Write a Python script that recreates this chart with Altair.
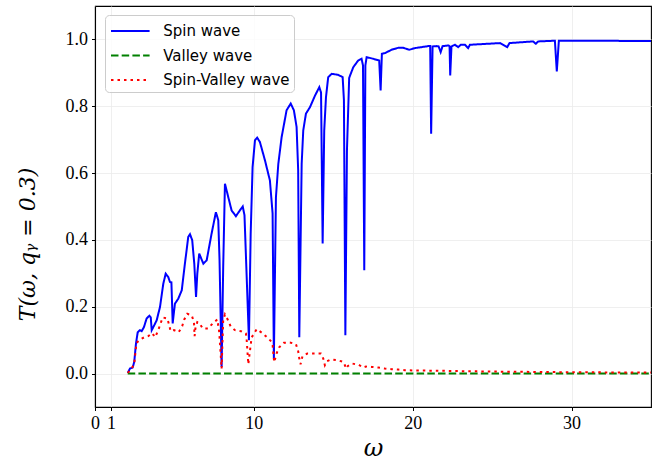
import altair as alt
import pandas as pd

# ---- data ----
spin_x = [2.06, 2.20, 2.37, 2.47, 2.58, 2.69, 2.83, 2.94, 3.08, 3.25, 3.42, 3.51, 3.57, 3.67, 3.88,
          4.09, 4.30, 4.45, 4.61, 4.72, 4.81, 4.89, 5.03, 5.24, 5.46, 5.66, 5.87, 5.98, 6.12, 6.25,
          6.36, 6.44, 6.56, 6.82, 7.03, 7.34, 7.61, 7.76, 7.84, 7.97, 8.07, 8.18, 8.39, 8.60, 8.87,
          9.13, 9.30, 9.41, 9.69, 9.80, 9.92, 10.07, 10.21, 10.38, 10.70, 11.01, 11.18, 11.26, 11.39,
          11.54, 11.75, 12.06, 12.32, 12.52, 12.69, 12.79, 12.86, 13.01, 13.11, 13.28, 13.53, 13.85,
          14.12, 14.23, 14.33, 14.43, 14.54, 14.68, 14.90, 15.31, 15.59, 15.67, 15.76, 15.86, 16.00,
          16.26, 16.57, 16.78, 16.87, 16.95, 17.02, 17.10, 17.51, 17.89, 17.98, 18.06, 18.25, 18.67,
          19.09, 19.40, 19.78, 20.14, 20.98, 21.10, 21.16, 21.25, 21.50, 21.63, 21.76, 21.88, 22.26,
          22.32, 22.36, 22.44, 22.66, 22.86, 23.03, 23.29, 23.49, 23.60, 25.49, 25.95, 26.09, 27.58,
          27.75, 27.90, 28.95, 29.07, 29.20, 31.78, 35.0]
spin_y = [0.002, 0.015, 0.018, 0.035, 0.090, 0.124, 0.130, 0.127, 0.139, 0.165, 0.173, 0.168, 0.130,
          0.139, 0.159, 0.199, 0.269, 0.299, 0.289, 0.274, 0.273, 0.150, 0.209, 0.224, 0.249, 0.329,
          0.409, 0.417, 0.399, 0.329, 0.229, 0.299, 0.359, 0.329, 0.339, 0.419, 0.483, 0.459, 0.339,
          0.020, 0.319, 0.568, 0.528, 0.488, 0.471, 0.489, 0.500, 0.474, 0.100, 0.419, 0.618, 0.698,
          0.706, 0.693, 0.638, 0.578, 0.479, 0.045, 0.528, 0.628, 0.708, 0.788, 0.808, 0.788, 0.738,
          0.608, 0.109, 0.628, 0.728, 0.778, 0.797, 0.832, 0.857, 0.841, 0.389, 0.728, 0.827, 0.887,
          0.897, 0.894, 0.887, 0.818, 0.115, 0.668, 0.885, 0.917, 0.937, 0.942, 0.922, 0.309, 0.922,
          0.947, 0.942, 0.937, 0.847, 0.957, 0.959, 0.969, 0.975, 0.975, 0.969, 0.974, 0.980, 0.980,
          0.718, 0.979, 0.980, 0.979, 0.962, 0.980, 0.982, 0.979, 0.892, 0.979, 0.984, 0.977, 0.984,
          0.984, 0.974, 0.984, 0.989, 0.977, 0.989, 0.994, 0.987, 0.994, 0.996, 0.904, 0.996, 0.996,
          0.995]

valley_x = [2.06, 35.0]
valley_y = [0.0, 0.0]

sv_x = [2.06, 2.31, 2.47, 2.56, 2.62, 2.83, 3.08, 3.35, 3.52, 3.59, 3.79, 3.98, 4.26, 4.55, 4.66,
        4.76, 4.97, 5.27, 5.49, 5.62, 5.81, 6.09, 6.23, 6.27, 6.32, 6.44, 6.56, 6.78, 7.11, 7.41,
        7.70, 7.82, 7.97, 8.07, 8.18, 8.35, 8.54, 8.81, 9.19, 9.50, 9.55, 9.65, 9.72, 9.86, 10.18,
        10.54, 10.82, 11.12, 11.18, 11.28, 11.43, 11.58, 11.89, 12.27, 12.65, 12.79, 12.86, 12.94,
        13.06, 13.36, 13.78, 14.22, 14.37, 14.47, 14.60, 14.85, 15.27, 15.63, 15.73, 15.80, 15.92,
        16.19, 16.61, 16.88, 17.06, 17.41, 17.83, 18.25, 18.67, 19.09, 19.51, 20.35, 20.77, 25.0,
        30.0, 35.0]
sv_y = [0.002, 0.015, 0.030, 0.070, 0.092, 0.102, 0.108, 0.112, 0.118, 0.121, 0.109, 0.130, 0.168,
        0.165, 0.147, 0.127, 0.130, 0.124, 0.142, 0.162, 0.179, 0.174, 0.154, 0.112, 0.135, 0.154,
        0.152, 0.135, 0.135, 0.150, 0.162, 0.124, 0.015, 0.159, 0.177, 0.162, 0.141, 0.130, 0.127,
        0.120, 0.100, 0.028, 0.055, 0.108, 0.133, 0.121, 0.109, 0.095, 0.085, 0.034, 0.060, 0.078,
        0.092, 0.093, 0.088, 0.067, 0.045, 0.028, 0.052, 0.060, 0.060, 0.060, 0.045, 0.025, 0.037,
        0.042, 0.040, 0.035, 0.025, 0.015, 0.023, 0.030, 0.026, 0.018, 0.021, 0.020, 0.018, 0.015,
        0.013, 0.012, 0.010, 0.009, 0.009, 0.006, 0.004, 0.003]

series_names = ["Spin wave", "Valley wave", "Spin-Valley wave"]
series_colors = ["#0000ff", "#008000", "#ff0000"]
series_dashes = [[1, 0], [7.5, 3.2], [2.5, 4]]

x_ticks = [0, 1, 10, 20, 30]
y_ticks = [0.0, 0.2, 0.4, 0.6, 0.8, 1.0]
x_domain = [0, 35]
y_domain = [-0.1, 1.1]

# ---- table ----
frames = []
for name, xs, ys in zip(series_names, [spin_x, valley_x, sv_x], [spin_y, valley_y, sv_y]):
    frames.append(pd.DataFrame({"omega": xs, "T": ys, "series": name}))
df = pd.concat(frames, ignore_index=True)

legend = alt.Legend(
    title=None, orient="none", legendX=10, legendY=9,
    symbolType="M-0.87,0H2.487", symbolSize=529, symbolStrokeWidth=2,
    labelOffset=29.7, rowPadding=3.5, padding=3.5,
    fillColor="rgba(255,255,255,0.8)", strokeColor="#cccccc", cornerRadius=4,
    labelFont="DejaVu Sans", labelFontSize=15, labelColor="#000000",
)

x_enc = alt.X("omega:Q", scale=alt.Scale(domain=x_domain, nice=False, zero=False),
              axis=alt.Axis(values=x_ticks, format="d", title="ω", labelOverlap=False,
                            labelFlush=False,
                            titleY=48, titleBaseline="alphabetic", titleFont="DejaVu Serif",
                            titleFontStyle="italic", titleFontSize=24, titleFontWeight="normal"))
y_enc = alt.Y("T:Q", scale=alt.Scale(domain=y_domain, nice=False, zero=False),
              axis=alt.Axis(values=y_ticks, format=".1f", title="T(ω, qᵧ = 0.3)",
                            labelFlush=False,
                            titleX=-68, titleY=238, titleAngle=-90, titleBaseline="middle",
                            titleAlign="center", titleFont="DejaVu Serif",
                            titleFontStyle="italic", titleFontSize=22,
                            titleFontWeight="normal"))
color_enc = alt.Color("series:N", scale=alt.Scale(domain=series_names, range=series_colors),
                      legend=legend)
dash_enc = alt.StrokeDash("series:N", scale=alt.Scale(domain=series_names, range=series_dashes),
                          legend=legend)

base = alt.Chart(df).mark_line(strokeWidth=2, clip=True, strokeCap="butt").encode(
    x=x_enc, y=y_enc, color=color_enc, strokeDash=dash_enc
)

layers = [base.transform_filter(alt.datum.series == n) for n in series_names]

chart = alt.layer(*layers).properties(
    width=556, height=401,
    padding={"left": 95, "top": 6, "right": 16, "bottom": 57},
    autosize=alt.AutoSizeParams(type="none"),
).configure_view(
    stroke="#000000", strokeWidth=1.1
).configure_axis(
    labelFont="Liberation Serif", labelFontSize=18, labelColor="#000000",
    titleFont="Liberation Serif", titleColor="#000000",
    tickColor="#000000", tickSize=3.5, tickWidth=1, labelPadding=4,
    domainColor="#000000", domainWidth=1.1,
    grid=True, gridColor="#ebebeb", gridWidth=0.8,
)

chart.save("out.html", embed_options={"renderer": "svg", "actions": False})
